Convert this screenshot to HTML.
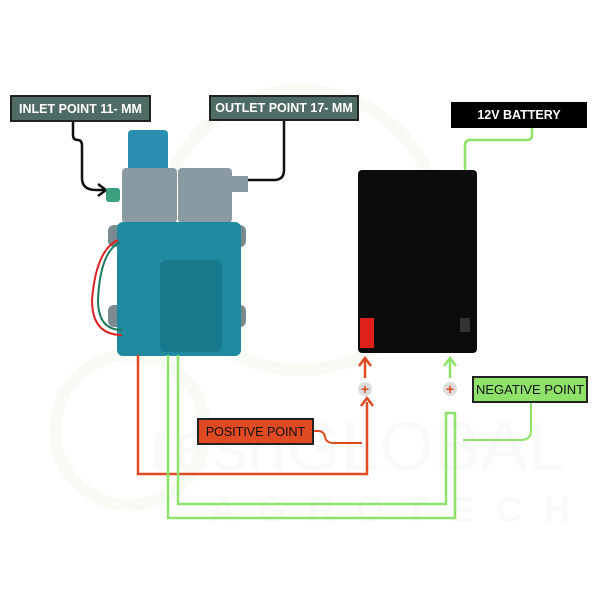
<!DOCTYPE html>
<html><head><meta charset="utf-8"><style>
body{margin:0;width:600px;height:600px;background:#fff;overflow:hidden;font-family:"Liberation Sans",sans-serif}
.l{position:absolute;box-sizing:border-box;border:2px solid #222;font-weight:bold;font-size:12.5px;display:flex;align-items:center;justify-content:center;white-space:nowrap}
</style></head><body>
<svg width="600" height="600" style="position:absolute;left:0;top:0">
<g fill="none" stroke="#f8fbf4" stroke-width="12">
<circle cx="300" cy="230" r="140"/>
<circle cx="130" cy="430" r="75"/>
</g>
<text x="150" y="470" font-size="70" fill="#f8faf7" font-family="Liberation Sans">reshGLOBAL</text>
<text x="210" y="522" font-size="36" fill="#f8faf7" font-family="Liberation Sans" letter-spacing="22" font-weight="bold">AGROTECH</text>
<path d="M73 121 V135 Q73 140 78 140 Q82 140 82 146 V178 Q82 190 96 190 H104" stroke="#111" stroke-width="2.5" fill="none"/>
<path d="M98 184 L106 190 L98 196" stroke="#111" stroke-width="2.5" fill="none"/>
<path d="M284 120 V170 Q284 180 274 180 H248" stroke="#111" stroke-width="2.5" fill="none"/>
<rect x="128" y="130" width="40" height="60" rx="4" fill="#2a8fb0"/>
<rect x="122" y="168" width="55" height="55" rx="4" fill="#8a9aa2"/>
<rect x="178" y="168" width="54" height="55" rx="4" fill="#8a9aa2"/>
<rect x="230" y="176" width="18" height="16" fill="#8a9aa2"/>
<rect x="106" y="188" width="14" height="14" rx="3" fill="#3aa080"/>
<rect x="108" y="225" width="18" height="22" rx="6" fill="#7a8a90"/>
<rect x="228" y="225" width="18" height="22" rx="6" fill="#7a8a90"/>
<rect x="108" y="305" width="18" height="22" rx="6" fill="#7a8a90"/>
<rect x="228" y="305" width="18" height="22" rx="6" fill="#7a8a90"/>
<rect x="117" y="222" width="124" height="134" rx="6" fill="#1f8aa0"/>
<rect x="160" y="260" width="62" height="92" rx="6" fill="#167a8c"/>
<path d="M118 240 Q96 250 92 300 Q92 335 122 335" stroke="#d22" stroke-width="2" fill="none"/>
<path d="M120 242 Q100 252 98 300 Q98 330 122 330" stroke="#1a7a60" stroke-width="2" fill="none"/>
<rect x="358" y="170" width="119" height="183" rx="4" fill="#0c0c0c"/>
<rect x="360" y="318" width="14" height="30" fill="#e0201a"/>
<rect x="460" y="318" width="10" height="14" fill="#333"/>
<path d="M138 355 V474 H367 V402" stroke="#e04a22" stroke-width="2.5" fill="none"/>
<path d="M361 406 L367 398 L373 406" stroke="#e04a22" stroke-width="2.5" fill="none"/>
<path d="M365 378 V360 M359 366 L365 358 L371 366" stroke="#e04a22" stroke-width="2.5" fill="none"/>
<path d="M313 431 H318 Q324 431 325 437 Q326 443 334 443 H362" stroke="#e04a22" stroke-width="2" fill="none"/>
<circle cx="365" cy="389" r="7" fill="#ddd"/><text x="365" y="394" font-size="14" fill="#e04a22" text-anchor="middle" font-weight="bold">+</text>
<circle cx="450" cy="389" r="7" fill="#ddd"/><text x="450" y="394" font-size="14" fill="#e04a22" text-anchor="middle" font-weight="bold">+</text>
<path d="M178 355 V504 H446 V413 H455 V518 H168 V355" stroke="#8ee26a" stroke-width="2.5" fill="none"/>
<path d="M450 378 V360 M444 366 L450 358 L456 366" stroke="#8ee26a" stroke-width="2.5" fill="none"/>
<path d="M531 402 V430 Q531 440 521 440 H463" stroke="#8ee26a" stroke-width="2" fill="none"/>
<path d="M532 127 V135 Q532 140 527 140 H470 Q465 140 465 146 V170" stroke="#8ee26a" stroke-width="2.5" fill="none"/>
</svg>
<div class="l" style="left:10px;top:95px;width:141px;height:27px;background:#4f6b66;color:#fff">INLET POINT 11- MM</div>
<div class="l" style="left:209px;top:95px;width:150px;height:26px;background:#4f6b66;color:#fff">OUTLET POINT 17- MM</div>
<div class="l" style="left:451px;top:102px;width:136px;height:26px;background:#000;color:#fff;border-color:#000">12V BATTERY</div>
<div class="l" style="left:472px;top:376px;width:116px;height:27px;background:#8ee26a;color:#111;font-weight:normal;font-size:13px">NEGATIVE POINT</div>
<div class="l" style="left:197px;top:418px;width:117px;height:27px;background:#e04a22;color:#111;font-weight:normal;font-size:12.5px">POSITIVE POINT</div>
</body></html>
